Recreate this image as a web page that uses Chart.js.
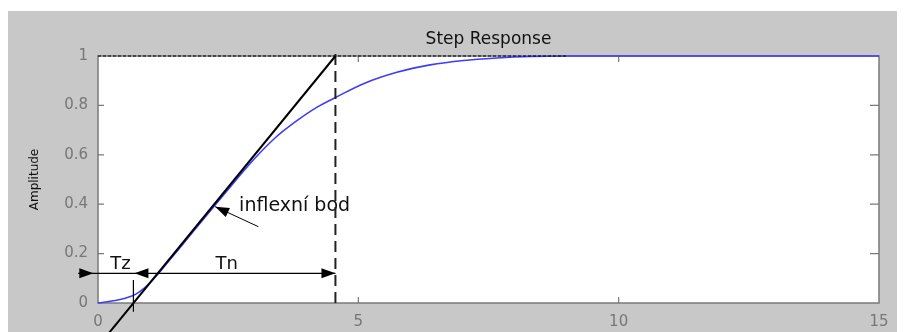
<!DOCTYPE html>
<html>
<head>
<meta charset="utf-8">
<script src="https://cdn.jsdelivr.net/npm/chart.js@4"></script>
<style>
  html, body { margin: 0; padding: 0; background: #fff; }
  #wrap { position: absolute; left: 8px; top: 11px; width: 889px; height: 321px; background: #c8c8c8; }
</style>
</head>
<body>
<div id="wrap"><canvas id="stepCanvas" width="889" height="321"></canvas></div>
<script>
// step response
const stepTime = [0, 0.33, 0.5, 0.72, 0.9, 1.13, 1.3, 1.55, 1.9, 2.25, 2.64, 3.0, 3.4, 3.8, 4.2, 4.56, 5.1, 5.74, 6.38, 7.02, 7.66, 8.3, 9.0, 15];
const stepAmp  = [0, 0.01, 0.018, 0.035, 0.062, 0.112, 0.155, 0.218, 0.308, 0.397, 0.495, 0.583, 0.668, 0.735, 0.792, 0.832, 0.888, 0.934, 0.964, 0.982, 0.992, 0.998, 1.0, 1.0];

// construction lines
const tangentTime = [0.1, 4.56];
const tangentAmp  = [-0.15, 1];
const settleTime  = [0, 9];
const settleAmp   = [1, 1];
const tnTime = [4.56, 4.56];
const tnAmp  = [0, 1.024];
const dimTime = [-0.38, 4.56];
const dimAmp  = [0.12, 0.12];
const tzTime = [0.68, 0.68];
const tzAmp  = [0.093, -0.035];
const inflTime = [3.08, 2.25];
const inflAmp  = [0.309, 0.39];

// tick labels
const xTickValues = [0, 5, 10, 15];
const yTickValues = [0, 0.2, 0.4, 0.6, 0.8, 1];

// text and arrow heads (data units)
const notes = [
  { text: 'Tz', t: 0.43, a: 0.162, size: 18 },
  { text: 'Tn', t: 2.47, a: 0.162, size: 18 },
  { text: 'inflexní bod', t: 2.71, a: 0.395, align: 'left', size: 19 }
];
const arrows = [
  { tip: [-0.09, 0.12], from: [-0.5, 0.12] },
  { tip: [0.70, 0.12], from: [1.2, 0.12] },
  { tip: [4.56, 0.12], from: [4.0, 0.12] },
  { tip: [2.25, 0.39], from: [3.08, 0.309] }
];

const toPoints = (xs, ys) => xs.map((x, i) => ({ x: x, y: ys[i] }));

Chart.defaults.font.family = "'DejaVu Sans', sans-serif";

function lineSet(xs, ys, color, width, dash) {
  return {
    data: toPoints(xs, ys),
    showLine: true,
    borderColor: color,
    borderWidth: width,
    borderDash: dash || [],
    pointRadius: 0,
    clip: false
  };
}

// 축 상자, 안쪽 눈금, 글자, 화살표
const matlabLook = {
  id: 'matlabLook',
  beforeDatasetsDraw(chart) {
    const { ctx, chartArea: ca } = chart;
    const sx = chart.scales.x, sy = chart.scales.y;
    ctx.save();
    ctx.fillStyle = '#fff';
    ctx.fillRect(ca.left, ca.top, ca.right - ca.left, ca.bottom - ca.top);
    ctx.strokeStyle = '#7a7a7a';
    ctx.lineWidth = 1.5;
    ctx.strokeRect(ca.left, ca.top, ca.right - ca.left, ca.bottom - ca.top);
    ctx.lineWidth = 1.2;
    ctx.beginPath();
    xTickValues.slice(1, -1).forEach(v => {
      const p = sx.getPixelForValue(v);
      ctx.moveTo(p, ca.bottom); ctx.lineTo(p, ca.bottom - 6);
      ctx.moveTo(p, ca.top); ctx.lineTo(p, ca.top + 6);
    });
    yTickValues.slice(1, -1).forEach(v => {
      const p = sy.getPixelForValue(v);
      ctx.moveTo(ca.left, p); ctx.lineTo(ca.left + 6, p);
      ctx.moveTo(ca.right, p); ctx.lineTo(ca.right - 9, p);
    });
    ctx.stroke();

    ctx.fillStyle = '#111';
    ctx.textBaseline = 'alphabetic';
    notes.forEach(n => {
      ctx.font = (n.size || 16) + "px 'DejaVu Sans'";
      ctx.textAlign = n.align || 'center';
      ctx.fillText(n.text, sx.getPixelForValue(n.t), sy.getPixelForValue(n.a) + 6);
    });
    ctx.restore();
  },
  afterDatasetsDraw(chart) {
    const { ctx, chartArea: ca } = chart;
    const sx = chart.scales.x, sy = chart.scales.y;
    ctx.save();
    ctx.fillStyle = '#000';
    arrows.forEach(ar => {
      const tx = sx.getPixelForValue(ar.tip[0]), ty = sy.getPixelForValue(ar.tip[1]);
      const fx = sx.getPixelForValue(ar.from[0]), fy = sy.getPixelForValue(ar.from[1]);
      const ang = Math.atan2(ty - fy, tx - fx);
      const len = 14, half = 5;
      const bx = tx - len * Math.cos(ang), by = ty - len * Math.sin(ang);
      ctx.beginPath();
      ctx.moveTo(tx, ty);
      ctx.lineTo(bx - half * Math.sin(ang), by + half * Math.cos(ang));
      ctx.lineTo(bx + half * Math.sin(ang), by - half * Math.cos(ang));
      ctx.closePath();
      ctx.fill();
    });
    ctx.font = "17px 'DejaVu Sans'";
    ctx.textAlign = 'center';
    ctx.fillStyle = '#111';
    ctx.fillText('Step Response', (ca.left + ca.right) / 2, 33);
    ctx.restore();
  }
};

new Chart(document.getElementById('stepCanvas').getContext('2d'), {
  type: 'scatter',
  data: {
    datasets: [
      lineSet(tangentTime, tangentAmp, '#000', 2),
      lineSet(tnTime, tnAmp, '#222', 2, [11, 6]),
      lineSet(dimTime, dimAmp, '#000', 1.2),
      lineSet(tzTime, tzAmp, '#000', 1.2),
      lineSet(inflTime, inflAmp, '#000', 1),
      lineSet(settleTime, settleAmp, '#000', 1.2, [3, 2]),
      Object.assign(lineSet(stepTime, stepAmp, '#3c3cff', 1.6), { cubicInterpolationMode: 'monotone' })
    ]
  },
  options: {
    responsive: false,
    animation: false,
    devicePixelRatio: 1,
    layout: { padding: { top: 45, right: 18, left: 0, bottom: 0 } },
    plugins: { legend: { display: false }, tooltip: { enabled: false } },
    scales: {
      x: {
        type: 'linear', min: 0, max: 15,
        grid: { display: false }, border: { display: false },
        afterBuildTicks: s => { s.ticks = xTickValues.map(v => ({ value: v })); },
        afterFit: s => { s.height = 29; },
        ticks: { color: '#777', font: { size: 15 }, padding: 2, maxRotation: 0 }
      },
      y: {
        type: 'linear', min: 0, max: 1,
        grid: { display: false }, border: { display: false },
        afterBuildTicks: s => { s.ticks = yTickValues.map(v => ({ value: v })); },
        afterFit: s => { s.width = 90; },
        ticks: { color: '#777', font: { size: 15 }, padding: 2, callback: v => String(+v.toFixed(2)) },
        title: { display: true, text: 'Amplitude', color: '#111', font: { size: 12 }, padding: { top: 20, bottom: 0 } }
      }
    }
  },
  plugins: [matlabLook]
});
</script>
</body>
</html>
